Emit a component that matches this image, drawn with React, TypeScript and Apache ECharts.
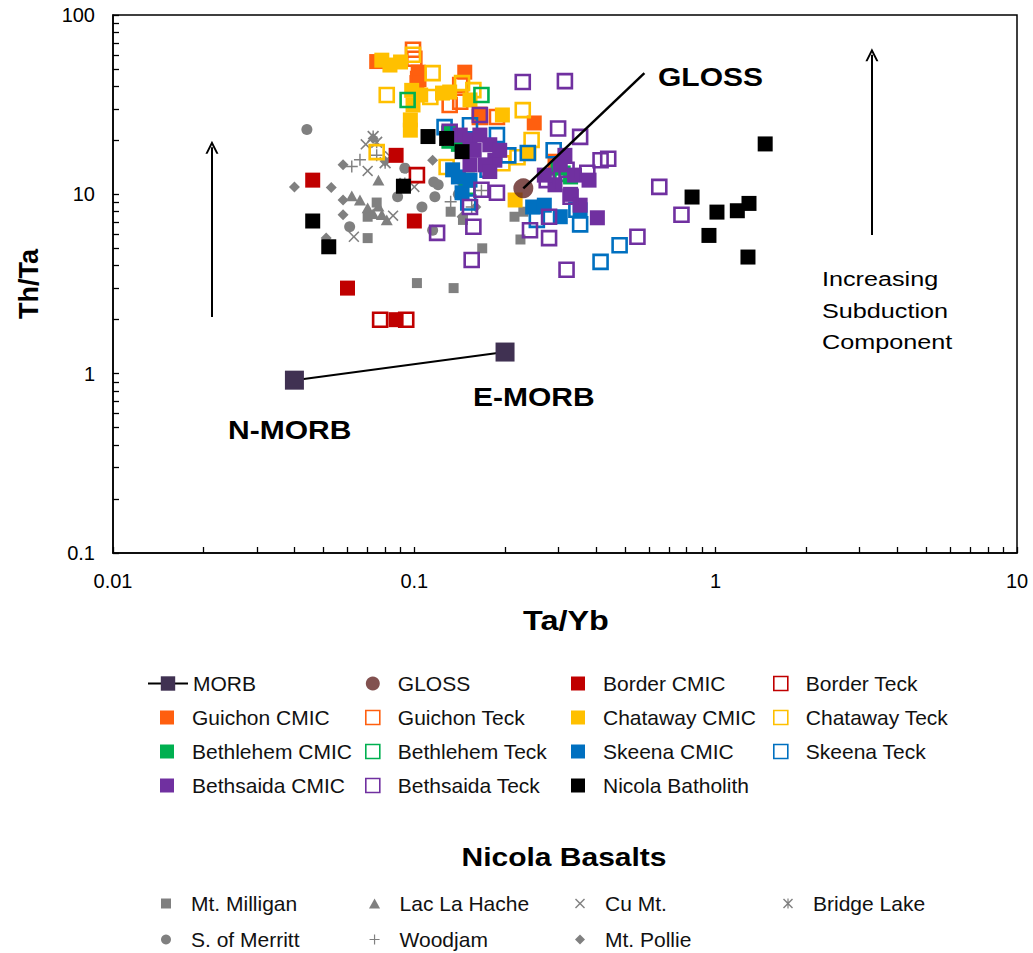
import React, { useEffect, useRef } from "react";
import * as echarts from "echarts";

// ---------- data (Ta/Yb, Th/Ta) ----------
const morbData = [[0.040, 0.92], [0.20, 1.32]];
const glossData = [[0.23, 10.8]];
const glossTrend = [[0.23, 10.8], [0.58, 47.4]];
const leftArrow = [[0.0213, 2.07], [0.0213, 18.3]];
const rightArrow = [[3.3, 5.93], [3.3, 60]];

const borderCmic = [[0.046, 12], [0.087, 16.5], [0.1, 7.1], [0.06, 3.0], [0.087, 2.0]];
const borderTeck = [[0.077, 2.0], [0.094, 2.0], [0.102, 12.8]];
const guichonCmic = [[0.075, 55], [0.103, 48], [0.102, 42], [0.147, 48], [0.25, 25], [0.165, 28], [0.293, 15.3]];
const guichonTeck = [[0.099, 64], [0.1, 57], [0.142, 40.7], [0.131, 31.5], [0.142, 32.8], [0.165, 27], [0.188, 27], [0.103, 44]];
const chatawayCmic = [[0.078, 56], [0.083, 52.6], [0.09, 54.7], [0.098, 38], [0.099, 31.5], [0.097, 26], [0.097, 22.8], [0.124, 36.7], [0.131, 37.2], [0.196, 27.7], [0.24, 17], [0.216, 9.3], [0.153, 33.6], [0.105, 35.8]];
const chatawayTeck = [[0.099, 60], [0.115, 47.4], [0.081, 35.8], [0.113, 34.9], [0.144, 41.7], [0.157, 38.1], [0.229, 29.5], [0.245, 20.1], [0.075, 17.2], [0.128, 14.2], [0.22, 16.1], [0.196, 14.9]];
const bethlehemCmic = [[0.13, 22], [0.15, 12], [0.3, 14], [0.33, 12.5], [0.14, 19]];
const bethlehemTeck = [[0.095, 33.6], [0.167, 35.8], [0.15, 11], [0.131, 20], [0.31, 13]];
const skeenaCmic = [[0.134, 13.7], [0.14, 12.5], [0.144, 10.2], [0.247, 8.5], [0.305, 7.5], [0.355, 8.2], [0.153, 12], [0.27, 8.7]];
const skeenaTeck = [[0.126, 23.7], [0.188, 21.4], [0.205, 16.5], [0.238, 17], [0.29, 17.6], [0.345, 8.2], [0.355, 6.8], [0.255, 7.2], [0.48, 5.2], [0.415, 4.2], [0.151, 9], [0.153, 24.3], [0.175, 13.7]];
const bethsaidaCmic = [[0.142, 21.4], [0.153, 20.1], [0.165, 21.4], [0.178, 18.9], [0.158, 17.6], [0.185, 15.5], [0.172, 14.6], [0.153, 14.6], [0.192, 17.6], [0.178, 13.4], [0.305, 14.6], [0.34, 12.8], [0.293, 11.3], [0.38, 12], [0.33, 10], [0.355, 8.7], [0.405, 7.4], [0.27, 12.8], [0.316, 16.5]];
const bethsaidaTeck = [[0.229, 42.3], [0.316, 42.8], [0.3, 23.3], [0.355, 20.9], [0.415, 15.5], [0.375, 13.2], [0.32, 13.7], [0.275, 12], [0.33, 9.7], [0.165, 27.7], [0.131, 22.3], [0.153, 8.5], [0.167, 10.6], [0.188, 10.2], [0.157, 6.6], [0.119, 6.1], [0.242, 6.3], [0.28, 7.5], [0.28, 5.7], [0.155, 4.3], [0.32, 3.8], [0.55, 5.8], [0.65, 11], [0.77, 7.7], [0.44, 15.8]];
const nicolaBatholith = [[0.111, 21], [0.128, 20.5], [0.144, 17.3], [0.092, 11.1], [0.046, 7.1], [0.052, 5.1], [1.46, 19.1], [0.835, 9.66], [1.01, 7.96], [1.18, 8.1], [1.29, 8.9], [0.95, 5.9], [1.28, 4.47]];

const mtMilligan = [[0.07, 5.7], [0.102, 3.2], [0.135, 3.0], [0.168, 5.0], [0.132, 8.0], [0.225, 5.6], [0.215, 7.5], [0.23, 8.0], [0.07, 7.5], [0.075, 9], [0.145, 7.2]];
const lacLaHache = [[0.076, 12], [0.062, 9.8], [0.066, 9.3], [0.076, 8.6], [0.073, 7.8], [0.078, 7.7], [0.081, 7.2], [0.07, 8.4]];
const cuMt = [[0.069, 19], [0.07, 13.5], [0.083, 16.3], [0.085, 7.6], [0.063, 5.8], [0.1, 11]];
const bridgeLake = [[0.073, 21], [0.075, 19.5], [0.08, 15], [0.093, 11.5]];
const sOfMerritt = [[0.044, 23], [0.093, 14], [0.088, 9.7], [0.106, 8.5], [0.116, 11.7], [0.12, 11.3], [0.061, 6.6], [0.117, 9.7], [0.145, 11.5], [0.14, 10], [0.115, 6.3]];
const woodjam = [[0.066, 15.6], [0.062, 14.3], [0.132, 9.1], [0.167, 10.5], [0.075, 16.5], [0.155, 8.5]];
const mtPollie = [[0.04, 11], [0.053, 10.9], [0.058, 14.6], [0.058, 9.3], [0.058, 7.7], [0.073, 20.5], [0.08, 15.3], [0.115, 15.5], [0.144, 7.5], [0.051, 5.7], [0.094, 14], [0.16, 8.5]];

const xDecades = [0.01, 0.1, 1];
const yDecades = [0.1, 1, 10];
const tickMultipliers = [1, 2, 3, 4, 5, 6, 7, 8, 9];

// ---------- styling ----------
const FONT = "'Liberation Sans', Arial, sans-serif";
const SQ = "path://M0,0 L10,0 L10,10 L0,10 Z";
const TRI = "path://M5,0 L10,9 L0,9 Z";
const DIA = "path://M5,0 L10,5 L5,10 L0,5 Z";
const CROSS = "path://M0,1 L1,0 L5,4 L9,0 L10,1 L6,5 L10,9 L9,10 L5,6 L1,10 L0,9 L4,5 Z";
const PLUS = "path://M4.4,0 L5.6,0 L5.6,4.4 L10,4.4 L10,5.6 L5.6,5.6 L5.6,10 L4.4,10 L4.4,5.6 L0,5.6 L0,4.4 L4.4,4.4 Z";
const AST = "path://M0,1 L1,0 L5,4 L9,0 L10,1 L6,5 L10,9 L9,10 L5,6 L1,10 L0,9 L4,5 Z M4.4,0 L5.6,0 L5.6,10 L4.4,10 Z";
const ARROW = "path://M0,10 L5,0 L10,10 L8.4,10 L5,3.2 L1.6,10 Z";
const GRAY = "#808080";

function ticks(decades: number[]) {
  const out: number[] = [];
  decades.forEach((d) => tickMultipliers.forEach((m) => out.push(+(d * m).toPrecision(3))));
  out.push(decades[decades.length - 1] * 10);
  return out;
}

function filled(name: string, data: number[][], color: string) {
  return {
    type: "scatter", name, data, symbol: SQ, symbolSize: 15, symbolKeepAspect: true,
    itemStyle: { color, opacity: 1 },
  };
}
function hollow(name: string, data: number[][], color: string) {
  return {
    type: "scatter", name, data, symbol: SQ, symbolSize: 14, symbolKeepAspect: true,
    itemStyle: { color: "rgba(255,255,255,0)", borderColor: color, borderWidth: 2.6, opacity: 1 },
  };
}
function basalt(name: string, data: number[][], symbol: string, size: number) {
  return {
    type: "scatter", name, data, symbol, symbolSize: size, symbolKeepAspect: true,
    itemStyle: { color: GRAY, opacity: 1 },
  };
}

const legendBase = {
  orient: "vertical", selectedMode: false, itemWidth: 40, itemHeight: 14, itemGap: 13,
  symbolKeepAspect: true, padding: 0,
  textStyle: { fontSize: 21, fontFamily: FONT, color: "#111", lineHeight: 20 },
};
const H = (name: string) => ({ name, itemStyle: { borderWidth: 1.6 } });
const basaltLegend = { ...legendBase, itemHeight: 10, itemGap: 15, top: 893 };

const axisCommon = {
  type: "log", logBase: 10,
  axisLine: { show: true, onZero: false, lineStyle: { color: "#000", width: 1.5 } },
  splitLine: { show: false },
  nameTextStyle: { fontSize: 27, fontWeight: "bold", fontFamily: FONT, color: "#000" },
  axisLabel: { fontSize: 20, fontFamily: FONT, color: "#000" },
};

function label(text: string, x: number, y: number, font: string, align = "left") {
  return {
    type: "text", x, y, scaleX: 1.2, silent: true,
    style: { text, font, fill: "#000", align, verticalAlign: "middle" },
  };
}

const option = {
  animation: false,
  backgroundColor: "#fff",
  grid: { left: 113, top: 15, width: 904, height: 538, show: true, borderColor: "#000", borderWidth: 1.5, containLabel: false },
  xAxis: {
    ...axisCommon, min: 0.01, max: 10,
    axisTick: { inside: true, length: 6, customValues: ticks(xDecades), lineStyle: { color: "#000", width: 1.3 } },
    axisLabel: { ...axisCommon.axisLabel, margin: 18 },
  },
  yAxis: {
    ...axisCommon, min: 0.1, max: 100, name: "Th/Ta", nameLocation: "middle", nameGap: 71,
    axisTick: { inside: true, length: 6, customValues: ticks(yDecades), lineStyle: { color: "#000", width: 1.3 } },
    axisLabel: { ...axisCommon.axisLabel, margin: 18 },
  },
  legend: [
    { ...legendBase, left: 147, top: 673, itemHeight: 18, data: ["MORB"] },
    { ...legendBase, left: 160, top: 707, data: ["Guichon CMIC", "Bethlehem CMIC", "Bethsaida CMIC"] },
    { ...legendBase, left: 365, top: 673, data: ["GLOSS", H("Guichon Teck"), H("Bethlehem Teck"), H("Bethsaida Teck")] },
    { ...legendBase, left: 571, top: 673, data: ["Border CMIC", "Chataway CMIC", "Skeena CMIC", "Nicola Batholith"] },
    { ...legendBase, left: 773, top: 673, data: [H("Border Teck"), H("Chataway Teck"), H("Skeena Teck")] },
    { ...basaltLegend, left: 161, data: ["Mt. Milligan", "S. of Merritt"] },
    { ...basaltLegend, left: 369, data: ["Lac La Hache", "Woodjam"] },
    { ...basaltLegend, left: 575, data: ["Cu Mt.", "Mt. Pollie"] },
    { ...basaltLegend, left: 783, data: ["Bridge Lake"] },
  ],
  series: [
    basalt("Mt. Milligan", mtMilligan, SQ, 10),
    basalt("Lac La Hache", lacLaHache, TRI, 12),
    basalt("Cu Mt.", cuMt, CROSS, 11),
    basalt("Bridge Lake", bridgeLake, AST, 12),
    basalt("S. of Merritt", sOfMerritt, "circle", 11),
    basalt("Woodjam", woodjam, PLUS, 12),
    basalt("Mt. Pollie", mtPollie, DIA, 11),
    filled("Border CMIC", borderCmic, "#C00000"),
    hollow("Border Teck", borderTeck, "#C00000"),
    filled("Guichon CMIC", guichonCmic, "#FF5F0F"),
    hollow("Guichon Teck", guichonTeck, "#FF5F0F"),
    filled("Chataway CMIC", chatawayCmic, "#FFC000"),
    hollow("Chataway Teck", chatawayTeck, "#FFC000"),
    filled("Bethlehem CMIC", bethlehemCmic, "#00B050"),
    hollow("Bethlehem Teck", bethlehemTeck, "#00B050"),
    filled("Skeena CMIC", skeenaCmic, "#0070C0"),
    hollow("Skeena Teck", skeenaTeck, "#0070C0"),
    filled("Bethsaida CMIC", bethsaidaCmic, "#7030A0"),
    hollow("Bethsaida Teck", bethsaidaTeck, "#7030A0"),
    filled("Nicola Batholith", nicolaBatholith, "#000000"),
    {
      type: "line", name: "GLOSS trend", data: glossTrend, symbol: "none", silent: true,
      lineStyle: { color: "#000", width: 2.5 },
      markLine: {
        silent: true, symbol: ["none", ARROW], symbolSize: 13,
        lineStyle: { color: "#000", width: 2, type: "solid" }, label: { show: false },
        data: [
          [{ coord: leftArrow[0] }, { coord: leftArrow[1] }],
          [{ coord: rightArrow[0] }, { coord: rightArrow[1] }],
        ],
      },
    },
    {
      type: "scatter", name: "GLOSS", data: glossData, symbol: "circle", symbolSize: 20,
      itemStyle: { color: "#632523" },
    },
    {
      type: "line", name: "MORB", data: morbData, symbol: SQ, symbolSize: 19, symbolKeepAspect: true,
      lineStyle: { color: "#000", width: 2 }, itemStyle: { color: "#403152" },
    },
  ],
  graphic: [
    label("GLOSS", 658, 77, `bold 25px ${FONT}`),
    label("N-MORB", 228, 430, `bold 25px ${FONT}`),
    label("E-MORB", 473, 397, `bold 25px ${FONT}`),
    label("Increasing", 822, 279, `21px ${FONT}`),
    label("Subduction", 822, 311, `21px ${FONT}`),
    label("Component", 822, 342, `21px ${FONT}`),
    label("Ta/Yb", 566, 620, `bold 27px ${FONT}`, "center"),
    label("Nicola Basalts", 564, 857, `bold 25px ${FONT}`, "center"),
  ],
};

export default function App() {
  const ref = useRef<HTMLDivElement>(null);
  useEffect(() => {
    document.body.style.margin = "0";
    const chart = echarts.init(ref.current!, null, { renderer: "svg" });
    chart.setOption(option as any);
    return () => chart.dispose();
  }, []);
  return <div ref={ref} style={{ width: 1033, height: 953 }} />;
}
